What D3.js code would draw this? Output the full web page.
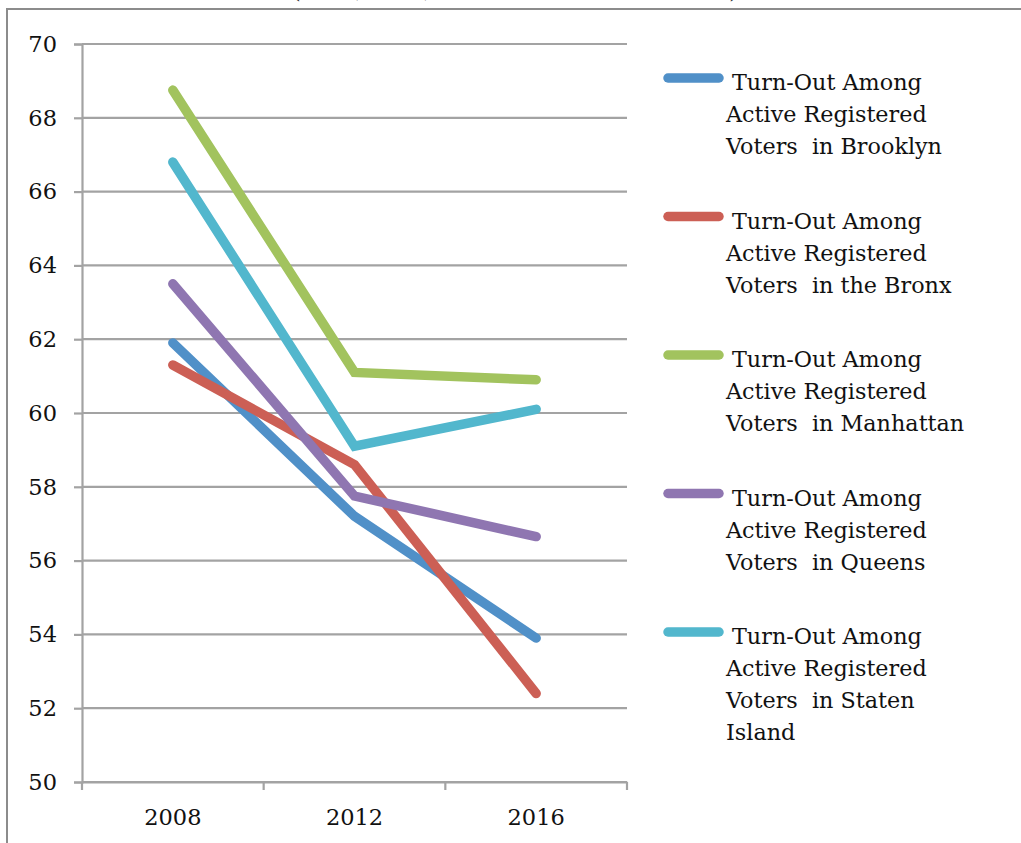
<!DOCTYPE html>
<html>
<head>
<meta charset="utf-8">
<script src="https://cdn.jsdelivr.net/npm/d3@7"></script>
<style>
  html, body { margin: 0; padding: 0; background: #fff; }
  svg { display: block; }
  text { font-family: "DejaVu Serif", "Liberation Serif", serif; fill: #111; white-space: pre; }
</style>
</head>
<body>
<svg id="chart" width="1021" height="843"></svg>
<script>
// Election years on the x axis
const years = ["2008", "2012", "2016"];

// Turn-out (%) among active registered voters, one array per borough
const brooklyn     = [61.9, 57.2, 53.9];
const bronx        = [61.3, 58.6, 52.4];
const manhattan    = [68.75, 61.1, 60.9];
const queens       = [63.5, 57.75, 56.65];
const statenIsland = [66.8, 59.1, 60.1];

// Legend labels, broken into the lines they are set on
const seriesLabels = [
  ["Turn-Out Among", "Active Registered", "Voters  in Brooklyn"],
  ["Turn-Out Among", "Active Registered", "Voters  in the Bronx"],
  ["Turn-Out Among", "Active Registered", "Voters  in Manhattan"],
  ["Turn-Out Among", "Active Registered", "Voters  in Queens"],
  ["Turn-Out Among", "Active Registered", "Voters  in Staten", "Island"]
];
const seriesColors = ["#5090c8", "#cc5f55", "#a2c35e", "#8f76b1", "#52b7cd"];

// Y axis ticks
const yTicks = [50, 52, 54, 56, 58, 60, 62, 64, 66, 68, 70];

const series = [brooklyn, bronx, manhattan, queens, statenIsland].map((values, i) => ({
  label: seriesLabels[i],
  color: seriesColors[i],
  values: values.map((v, j) => ({ year: years[j], value: v }))
}));

const svg = d3.select("#chart");
const gridColor = "#a3a3a3";

// Title line above the frame; only its lowest strokes fall inside the page
svg.append("text")
  .attr("x", 515).attr("y", -2)
  .attr("text-anchor", "middle")
  .style("font-size", "21.5px")
  .text("(2008, 2012, and 2016 General Election)");

// Outer frame (top and left edges)
svg.append("path")
  .attr("d", "M7,843 L7,9 L1021,9")
  .attr("fill", "none")
  .attr("stroke", "#8c8c8c")
  .attr("stroke-width", 2);

const plot = { left: 82, right: 627, top: 44, bottom: 782 };

const x = d3.scaleBand().domain(years).range([plot.left, plot.right]);
const y = d3.scaleLinear().domain([50, 70]).range([plot.bottom, plot.top]);

// Horizontal gridlines
svg.append("g")
  .selectAll("line")
  .data(yTicks)
  .join("line")
  .attr("x1", plot.left).attr("x2", plot.right)
  .attr("y1", d => y(d)).attr("y2", d => y(d))
  .attr("stroke", gridColor)
  .attr("stroke-width", 2.2);

// Y axis
const yAxis = svg.append("g")
  .attr("transform", `translate(${plot.left},0)`)
  .call(d3.axisLeft(y).tickValues(yTicks).tickSize(8).tickPadding(17));
yAxis.select(".domain").attr("stroke", gridColor).attr("stroke-width", 2.2);
yAxis.selectAll(".tick line").attr("stroke", gridColor).attr("stroke-width", 2.2);
yAxis.selectAll(".tick text")
  .style("font-family", "'DejaVu Serif', serif")
  .style("font-size", "22.5px").attr("fill", "#111");

// X axis with ticks on the band boundaries
const xAxis = svg.append("g")
  .attr("transform", `translate(0,${plot.bottom})`)
  .call(d3.axisBottom(x).tickSize(0).tickPadding(27));
xAxis.select(".domain").attr("stroke", gridColor).attr("stroke-width", 2.2);
xAxis.selectAll(".tick text")
  .style("font-family", "'DejaVu Serif', serif")
  .style("font-size", "22.5px").attr("fill", "#111");
const bounds = years.map(d => x(d)).concat([x(years[years.length - 1]) + x.bandwidth()]);
xAxis.selectAll("line.bound")
  .data(bounds)
  .join("line")
  .attr("class", "bound")
  .attr("x1", d => d).attr("x2", d => d)
  .attr("y1", 0).attr("y2", 8)
  .attr("stroke", gridColor).attr("stroke-width", 2.2);

// Series lines
const line = d3.line()
  .x(d => x(d.year) + x.bandwidth() / 2)
  .y(d => y(d.value));

svg.append("g")
  .selectAll("path")
  .data(series)
  .join("path")
  .attr("d", d => line(d.values))
  .attr("fill", "none")
  .attr("stroke", d => d.color)
  .attr("stroke-width", 9.5)
  .attr("stroke-linecap", "round")
  .attr("stroke-linejoin", "miter");

// Legend
const legend = svg.append("g");
const item = legend.selectAll("g")
  .data(series)
  .join("g")
  .attr("transform", (d, i) => `translate(0,${78 + i * 138.5})`);

item.append("line")
  .attr("x1", 668).attr("x2", 719)
  .attr("y1", 0).attr("y2", 0)
  .attr("stroke", d => d.color)
  .attr("stroke-width", 9.5)
  .attr("stroke-linecap", "round");

item.append("text")
  .style("font-size", "22.3px")
  .selectAll("tspan")
  .data(d => d.label)
  .join("tspan")
  .attr("x", (t, j) => j === 0 ? 732 : 726)
  .attr("y", (t, j) => 12 + j * 32)
  .text(t => t);
</script>
</body>
</html>
